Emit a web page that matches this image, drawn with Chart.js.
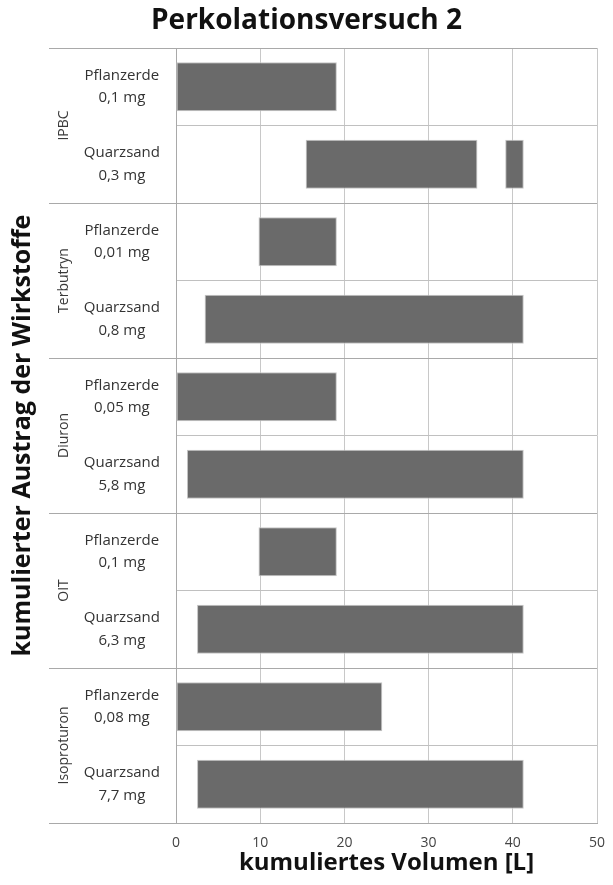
<!DOCTYPE html>
<html>
<head>
<meta charset="utf-8">
<script src="https://cdn.jsdelivr.net/npm/chart.js@4.4.1/dist/chart.umd.min.js"></script>
<style>
  html, body { margin: 0; padding: 0; background: #fff; }
  #wrap { width: 613px; height: 885px; }
</style>
</head>
<body>
<div id="wrap"><canvas id="chart"></canvas></div>
<script>
// substances (one group = two rows)
const groups = ['IPBC', 'Terbutryn', 'Diuron', 'OIT', 'Isoproturon'];

// row labels (soil + amount)
const rowLabels = [
  ['Pflanzerde', '0,1 mg'],  ['Quarzsand', '0,3 mg'],
  ['Pflanzerde', '0,01 mg'], ['Quarzsand', '0,8 mg'],
  ['Pflanzerde', '0,05 mg'], ['Quarzsand', '5,8 mg'],
  ['Pflanzerde', '0,1 mg'],  ['Quarzsand', '6,3 mg'],
  ['Pflanzerde', '0,08 mg'], ['Quarzsand', '7,7 mg']
];

// volume range [L] where the substance was found
const startVals = [0, 15.4, 9.8, 3.4, 0, 1.3, 9.8, 2.5, 0, 2.5];
const endVals   = [19.1, 35.8, 19.1, 41.3, 19.1, 41.3, 19.1, 41.3, 24.5, 41.3];

// second segment (only IPBC Quarzsand)
const extraStart = [null, 39.1, null, null, null, null, null, null, null, null];
const extraEnd   = [null, 41.3, null, null, null, null, null, null, null, null];

const xTicks = [0, 10, 20, 30, 40, 50];

const mainData = startVals.map((s, i) => [s, endVals[i]]);
const extraData = extraStart.map((s, i) => s === null ? null : [s, extraEnd[i]]);

const FONT = "'Open Sans', 'DejaVu Sans', sans-serif";

// title, group labels, group divider lines and the left axis title
const groupPlugin = {
  id: 'groupPlugin',
  afterDraw(chart) {
    const ctx = chart.ctx;
    const y = chart.scales.y;
    const area = chart.chartArea;
    const per = 2;
    ctx.save();
    // chart title, centred on the whole page
    ctx.fillStyle = '#111';
    ctx.font = 'bold 28px ' + FONT;
    ctx.textAlign = 'center';
    ctx.textBaseline = 'middle';
    ctx.fillText('Perkolationsversuch 2', chart.width / 2, 21);

    ctx.strokeStyle = '#a9a9a9';
    ctx.lineWidth = 1;
    for (let g = 0; g <= groups.length; g++) {
      let yy;
      if (g === groups.length) yy = area.bottom;
      else yy = (y.getPixelForValue(g * per) + y.getPixelForValue(g * per - 1)) / 2;
      if (g === 0) yy = area.top;
      yy = Math.round(yy) + 0.5;
      ctx.beginPath();
      ctx.moveTo(49, yy);
      ctx.lineTo(area.right, yy);
      ctx.stroke();
    }
    // group names
    ctx.fillStyle = '#3a3a3a';
    ctx.font = '14px ' + FONT;
    groups.forEach((name, g) => {
      const cy = (y.getPixelForValue(g * per) + y.getPixelForValue(g * per + 1)) / 2;
      ctx.save();
      ctx.translate(64, cy);
      ctx.rotate(-Math.PI / 2);
      ctx.fillText(name, 0, 0);
      ctx.restore();
    });
    // axis title
    ctx.fillStyle = '#111';
    ctx.font = 'bold 25px ' + FONT;
    ctx.save();
    ctx.translate(23, (area.top + area.bottom) / 2);
    ctx.rotate(-Math.PI / 2);
    ctx.fillText('kumulierter Austrag der Wirkstoffe', 0, 0);
    ctx.restore();
    ctx.restore();
  }
};

new Chart(document.getElementById('chart'), {
  type: 'bar',
  data: {
    labels: rowLabels,
    datasets: [
      {
        data: mainData,
        backgroundColor: '#6a6a6a',
        borderColor: '#c4c4c4',
        borderWidth: 1,
        borderSkipped: false,
        grouped: false,
        barPercentage: 0.63,
        categoryPercentage: 1
      },
      {
        data: extraData,
        backgroundColor: '#6a6a6a',
        borderColor: '#c4c4c4',
        borderWidth: 1,
        borderSkipped: false,
        grouped: false,
        barPercentage: 0.63,
        categoryPercentage: 1
      }
    ]
  },
  options: {
    indexAxis: 'y',
    responsive: true,
    maintainAspectRatio: false,
    animation: false,
    layout: { padding: { left: 0, right: 16, top: 48, bottom: 0 } },
    plugins: {
      legend: { display: false },
      tooltip: { enabled: false },
      title: { display: false }
    },
    scales: {
      x: {
        min: 0,
        max: 50,
        afterBuildTicks(scale) {
          scale.ticks = xTicks.map(v => ({ value: v }));
        },
        afterFit(scale) {
          scale.height = 62;
          scale.paddingLeft = 0;
          scale.paddingRight = 0;
        },
        grid: { color: '#c8c8c8', drawTicks: false },
        border: { color: '#a9a9a9' },
        ticks: {
          color: '#444',
          font: { family: FONT, size: 14 },
          padding: 12
        },
        title: {
          display: true,
          text: 'kumuliertes Volumen [L]',
          color: '#111',
          font: { family: FONT, size: 24, weight: 'bold' },
          padding: { top: 7, bottom: 7 }
        }
      },
      y: {
        afterFit(scale) {
          scale.width = 176;
          scale.paddingTop = 0;
          scale.paddingBottom = 0;
        },
        grid: { offset: true, color: '#c0c0c0', drawTicks: false },
        border: { color: '#a9a9a9' },
        ticks: {
          color: '#333',
          font: { family: FONT, size: 15, lineHeight: 1.5 },
          crossAlign: 'center',
          padding: 16
        }
      }
    }
  },
  plugins: [groupPlugin]
});
</script>
</body>
</html>
